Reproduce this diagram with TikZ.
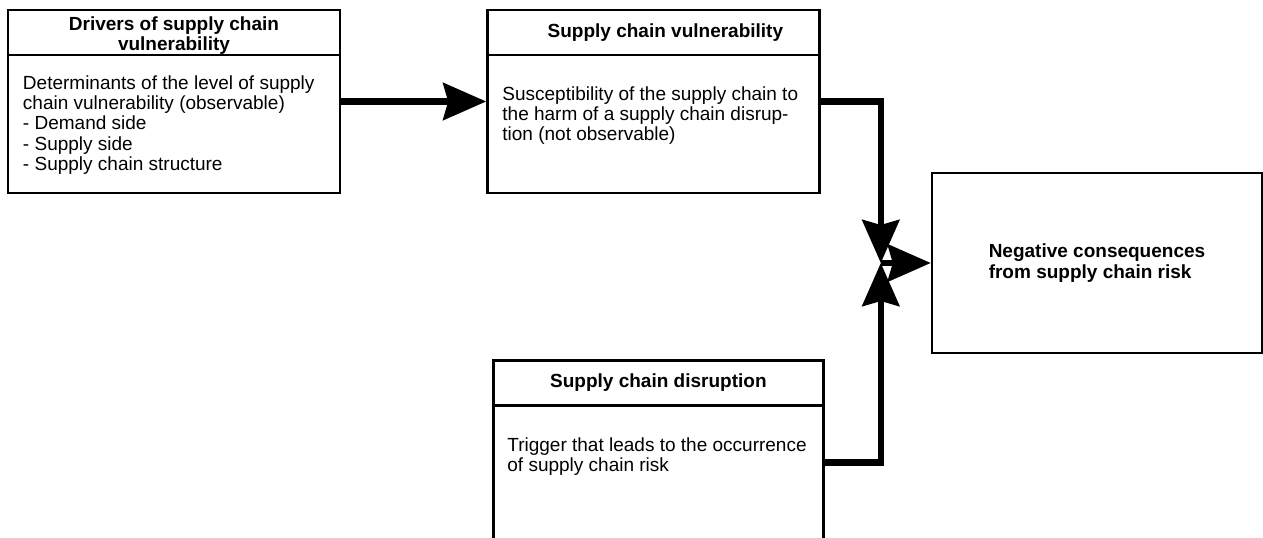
\documentclass[tikz,border=0pt]{standalone}
\usepackage{fontspec}
\setmainfont{Liberation Sans}
\usetikzlibrary{arrows.meta,positioning}

\begin{document}
\begin{tikzpicture}[>={Stealth[length=21.5pt,width=18.5pt,inset=2.5pt]},
        line width=1.2pt,node distance=72.5pt,
        font=\fontsize{9.5}{10.15}\selectfont,
        box/.style={draw,minimum width=166pt,minimum height=91.5pt,inner sep=0pt},
        head/.style={draw,minimum width=166pt,minimum height=22.5pt,inner sep=0pt,
                     align=center,font=\fontsize{9.5}{10.15}\selectfont\bfseries},
        txt/.style={inner sep=0pt,align=left},
        link/.style={->,line width=3.2pt}]

  \useasboundingbox (0,0) rectangle (631.5pt,268.5pt);
  \clip (0,0) rectangle (631.5pt,268.5pt);

  \node[box] (drv) at (87pt,217.75pt) {};
  \node[box] (vul) [right=of drv] {};
  \node[box,minimum width=165pt,minimum height=102pt] (dis) [below=82.5pt of vul,xshift=2.5pt] {};
  \node[box,minimum width=165pt,minimum height=90pt,align=left,
        font=\fontsize{9.5}{10.15}\selectfont\bfseries] (neg) at (548.5pt,137pt)
        {Negative consequences\\from supply chain risk};

  \node[head] (drvhead) [below=0pt of drv.north] {};
  \node[head,draw=none,yshift=-1.5pt] (drvtitle) at (drvhead) {Drivers of supply chain\\vulnerability};
  \node[head] (vulhead) [below=0pt of vul.north] {\hspace*{12pt}Supply chain vulnerability};
  \node[head,minimum width=165pt] (dishead) [below=0pt of dis.north] {Supply chain disruption};

  \node[txt] (drvtext) [below right=9pt and 7.5pt of drvhead.south west]
        {Determinants of the level of supply\\chain vulnerability (observable)\\- Demand side\\- Supply side\\- Supply chain structure};
  \node[txt] (vultext) [below right=14.5pt and 7.5pt of vulhead.south west]
        {Susceptibility of the supply chain to\\the harm of a supply chain disrup-\\tion (not observable)};
  \node[txt] (distext) [below right=15pt and 7pt of dishead.south west]
        {Trigger that leads to the occurrence\\of supply chain risk};

  \coordinate (jn) at ([xshift=-25pt]neg.west);
  \draw[link] (drv) -- (vul);
  \draw[link] (vul.east) -| (jn);
  \draw[link] (dis.east) -| (jn);
  \draw[link] (jn) -- (neg);

\end{tikzpicture}
\end{document}
